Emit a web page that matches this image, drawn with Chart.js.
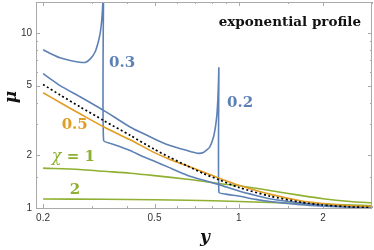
<!DOCTYPE html>
<html>
<head>
<meta charset="utf-8">
<script src="https://cdn.jsdelivr.net/npm/chart.js@4.4.0/dist/chart.umd.min.js"></script>
<style>
  html, body { margin: 0; padding: 0; background: #fff; }
</style>
</head>
<body>
<canvas id="muChart" width="374" height="250"></canvas>
<script>
/* ================= DATA ================= */
const xTickLabels = [0.2, 0.5, 1, 2];
const yTickLabels = [1, 2, 5, 10];
const xMinorTicks = [0.3, 0.4, 0.6, 0.7, 0.8, 0.9, 1.5, 3];
const yMinorTicks = [1.5, 3, 4, 6, 7, 8, 9, 15];

// reference curve (dotted)
const refX  = [0.2, 0.23, 0.271, 0.33, 0.409, 0.5, 0.565, 0.654, 0.75, 0.85, 1.0, 1.29, 1.66, 2.0, 2.5, 3.0];
const refMu = [5.07, 4.42, 3.78, 3.15, 2.60, 2.16, 1.95, 1.74, 1.57, 1.45, 1.31, 1.17, 1.08, 1.04, 1.015, 1.005];

// chi = 0.2 (jumps down near y = 0.85)
const chi02X  = [0.2, 0.23, 0.27, 0.33, 0.409, 0.5, 0.565, 0.62, 0.68, 0.716, 0.75, 0.786, 0.81, 0.825, 0.835, 0.842, 0.846, 0.849, 0.849, 0.9, 1.0, 1.15, 1.29, 1.66, 2.0, 2.5, 3.0];
const chi02Mu = [5.85, 5.0, 4.33, 3.6, 2.9, 2.48, 2.28, 2.18, 2.09, 2.05, 2.08, 2.22, 2.5, 2.9, 3.4, 4.2, 5.2, 6.3, 1.23, 1.2, 1.17, 1.12, 1.09, 1.045, 1.025, 1.01, 1.005];

// chi = 0.3 (jumps down near y = 0.33)
const chi03X  = [0.2, 0.215, 0.23, 0.25, 0.27, 0.283, 0.295, 0.307, 0.315, 0.32, 0.324, 0.327, 0.329, 0.329, 0.36, 0.409, 0.45, 0.5, 0.565, 0.654, 0.75, 0.85, 1.0, 1.15, 1.29, 1.66, 2.0, 2.5, 3.0];
const chi03Mu = [8.0, 7.55, 7.2, 6.95, 6.8, 6.78, 7.1, 7.8, 8.9, 10.0, 11.8, 15, 20, 2.43, 2.3, 2.13, 1.98, 1.85, 1.70, 1.54, 1.44, 1.36, 1.25, 1.18, 1.13, 1.07, 1.04, 1.02, 1.01];

// chi = 0.5
const chi05X  = [0.2, 0.23, 0.271, 0.33, 0.409, 0.5, 0.565, 0.654, 0.75, 0.85, 1.0, 1.29, 1.66, 2.0, 2.5, 3.0];
const chi05Mu = [4.55, 4.0, 3.45, 2.9, 2.45, 2.07, 1.9, 1.74, 1.6, 1.48, 1.35, 1.2, 1.1, 1.06, 1.03, 1.02];

// chi = 1
const chi1X  = [0.2, 0.27, 0.33, 0.409, 0.5, 0.654, 0.85, 1.0, 1.29, 1.66, 2.0, 2.5, 3.0];
const chi1Mu = [1.69, 1.66, 1.62, 1.58, 1.53, 1.46, 1.38, 1.34, 1.26, 1.18, 1.13, 1.09, 1.07];

// chi = 2
const chi2X  = [0.2, 0.33, 0.5, 0.654, 1.0, 1.29, 1.66, 2.0, 2.5, 3.0];
const chi2Mu = [1.125, 1.122, 1.115, 1.108, 1.09, 1.075, 1.06, 1.05, 1.04, 1.03];

/* ================= COLOURS ================= */
const BLUE = '#5E81B5';
const ORANGE = '#E19C24';
const GREEN = '#8FB032';

const toPoints = (xs, ys) => xs.map((x, i) => ({ x: x, y: ys[i] }));

/* ================= FRAME + INWARD TICKS ================= */
const framePlugin = {
    id: 'frame',
    afterDatasetsDraw(chart) {
        const { ctx, chartArea: a, scales } = chart;
        ctx.save();
        ctx.strokeStyle = '#aaa';
        ctx.lineWidth = 1;
        ctx.strokeRect(a.left + 0.5, a.top + 0.5, a.right - a.left - 1, a.bottom - a.top);

        const tick = (scale, v, len) => {
            const p = Math.round(scale.getPixelForValue(v)) + 0.5;
            ctx.beginPath();
            if (scale.axis === 'x') {
                ctx.moveTo(p, a.bottom); ctx.lineTo(p, a.bottom - len);
                ctx.moveTo(p, a.top); ctx.lineTo(p, a.top + len);
            } else {
                ctx.moveTo(a.left, p); ctx.lineTo(a.left + len, p);
                ctx.moveTo(a.right, p); ctx.lineTo(a.right - len, p);
            }
            ctx.stroke();
        };
        xTickLabels.forEach(v => tick(scales.x, v, 4));
        xMinorTicks.forEach(v => tick(scales.x, v, 2));
        yTickLabels.forEach(v => tick(scales.y, v, 4));
        yMinorTicks.forEach(v => tick(scales.y, v, 2));
        ctx.restore();
    }
};

/* ================= CURVE LABELS + AXIS TITLES ================= */
const curveLabels = [
    { text: '0.3', x: 0.344, y: 6.75, color: BLUE },
    { text: '0.2', x: 0.908, y: 3.95, color: BLUE },
    { text: '0.5', x: 0.233, y: 2.96, color: ORANGE },
    { text: '2',   x: 0.249, y: 1.266, color: GREEN }
];

const labelPlugin = {
    id: 'labels',
    afterDraw(chart) {
        const { ctx, scales, chartArea: a } = chart;
        ctx.save();
        ctx.textBaseline = 'middle';
        ctx.textAlign = 'left';
        ctx.font = 'bold 15px "DejaVu Serif"';
        curveLabels.forEach(l => {
            ctx.fillStyle = l.color;
            ctx.fillText(l.text, scales.x.getPixelForValue(l.x), scales.y.getPixelForValue(l.y));
        });

        // chi = 1
        let px = scales.x.getPixelForValue(0.215);
        const py = scales.y.getPixelForValue(1.95);
        ctx.fillStyle = GREEN;
        ctx.font = 'italic 16px "DejaVu Serif"';
        ctx.fillText('χ', px, py);
        px += ctx.measureText('χ').width;
        ctx.font = 'bold 15px "DejaVu Serif"';
        ctx.fillText(' = 1', px, py);

        // title
        ctx.fillStyle = '#111';
        ctx.textAlign = 'right';
        ctx.font = 'bold 13.5px "DejaVu Serif"';
        ctx.fillText('exponential profile', a.right - 11, a.top + 20);

        // axis titles
        ctx.textAlign = 'center';
        ctx.font = 'bold italic 17px "DejaVu Serif"';
        ctx.fillText('y', (a.left + a.right) / 2 + 1, 238);
        ctx.translate(12, 97);
        ctx.rotate(-Math.PI / 2);
        ctx.fillText('μ', 0, 0);
        ctx.restore();
    }
};

/* ================= CHART ================= */
const ctxMu = document.getElementById('muChart').getContext('2d');

const lineSet = (xs, ys, color, extra) => Object.assign({
    data: toPoints(xs, ys),
    showLine: true,
    borderColor: color,
    borderWidth: 1.6,
    pointRadius: 0,
    tension: 0.25,
    fill: false
}, extra || {});

const muChart = new Chart(ctxMu, {
    type: 'scatter',
    data: {
        datasets: [
            lineSet(refX, refMu, '#000', { borderDash: [2, 2.5], borderWidth: 1.7 }),
            lineSet(chi05X, chi05Mu, ORANGE),
            lineSet(chi02X, chi02Mu, BLUE, { tension: 0.15 }),
            lineSet(chi03X, chi03Mu, BLUE, { tension: 0.15 }),
            lineSet(chi1X, chi1Mu, GREEN),
            lineSet(chi2X, chi2Mu, GREEN)
        ]
    },
    options: {
        responsive: false,
        devicePixelRatio: 1,
        animation: false,
        layout: { padding: { top: 2, right: 2, left: 0, bottom: 0 } },
        plugins: {
            legend: { display: false },
            tooltip: { enabled: false }
        },
        scales: {
            x: {
                type: 'logarithmic',
                min: 0.1887,
                max: 2.99,
                grid: { display: false, drawTicks: false },
                border: { display: false },
                ticks: {
                    color: '#333',
                    font: { family: 'Liberation Sans', size: 10 },
                    padding: 4,
                    maxRotation: 0,
                    autoSkip: false,
                    callback: v => String(v)
                },
                afterBuildTicks: s => { s.ticks = xTickLabels.map(v => ({ value: v })); },
                afterFit: s => { s.height = 42; s.paddingLeft = 0; s.paddingRight = 0; }
            },
            y: {
                type: 'logarithmic',
                min: 1,
                max: 15,
                grid: { display: false, drawTicks: false },
                border: { display: false },
                ticks: {
                    color: '#333',
                    font: { family: 'Liberation Sans', size: 10 },
                    padding: 4,
                    autoSkip: false,
                    callback: v => String(v)
                },
                afterBuildTicks: s => { s.ticks = yTickLabels.map(v => ({ value: v })); },
                afterFit: s => { s.width = 36; s.paddingTop = 0; s.paddingBottom = 0; }
            }
        }
    },
    plugins: [framePlugin, labelPlugin]
});
</script>
</body>
</html>
